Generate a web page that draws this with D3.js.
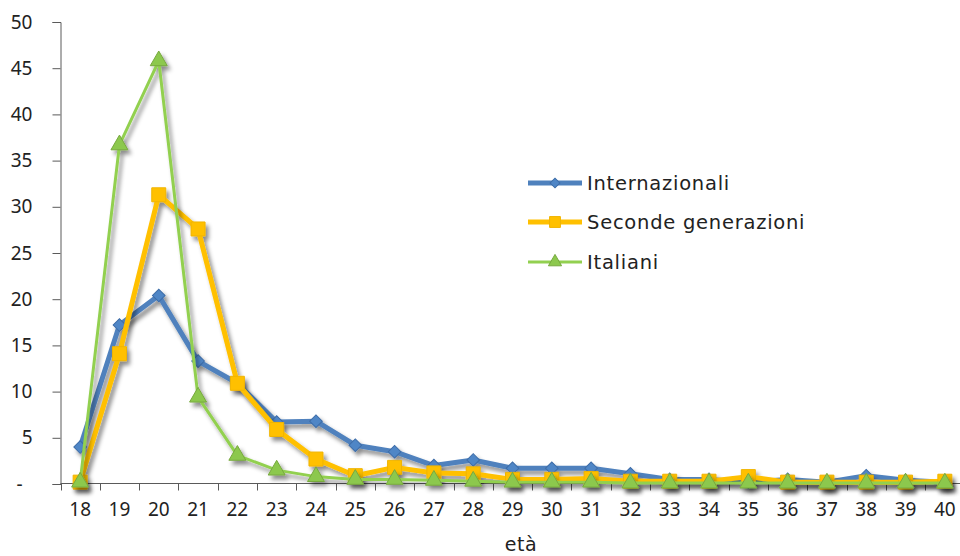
<!DOCTYPE html>
<html>
<head>
<meta charset="utf-8">
<script src="https://cdn.jsdelivr.net/npm/d3@7"></script>
<style>
  html, body { margin: 0; padding: 0; background: #fff; }
  svg { display: block; font-family: "DejaVu Sans", sans-serif; }
</style>
</head>
<body>
<svg id="chart" width="960" height="556"></svg>
<script>
// Età (asse x)
const ages = d3.range(18, 41);

// Valori percentuali per età
const internazionali = [4.0, 17.2, 20.4, 13.3, 10.9, 6.7, 6.8, 4.2, 3.5, 2.0, 2.6, 1.7, 1.7, 1.7, 1.1, 0.5, 0.5, 0.2, 0.5, 0.2, 0.9, 0.4, 0.2];
const secondeGenerazioni = [0.2, 14.1, 31.3, 27.6, 10.9, 5.9, 2.7, 0.9, 1.8, 1.2, 1.1, 0.5, 0.5, 0.6, 0.3, 0.3, 0.3, 0.8, 0.2, 0.2, 0.2, 0.2, 0.3];
const italiani = [0.2, 36.7, 45.8, 9.4, 3.1, 1.5, 0.8, 0.5, 0.5, 0.4, 0.3, 0.2, 0.2, 0.2, 0.1, 0.1, 0.1, 0.1, 0.1, 0.1, 0.1, 0.1, 0.1];

const seriesNames = ["Internazionali", "Seconde generazioni", "Italiani"];
const yTicks = [0, 5, 10, 15, 20, 25, 30, 35, 40, 45, 50];

// rombo: quadrato ruotato di 45°
const series = [
  { name: seriesNames[0], values: internazionali, color: "#4F81BD", fill: "#4F86C6", stroke: "#3E6DA8", width: 5, symbol: d3.symbolSquare, size: 80, rot: 45 },
  { name: seriesNames[1], values: secondeGenerazioni, color: "#FFC000", fill: "#FFC000", stroke: "#F0B400", width: 5, symbol: d3.symbolSquare, size: 196, rot: 0 },
  { name: seriesNames[2], values: italiani, color: "#92D050", fill: "#8CC84E", stroke: "#77A83E", width: 3, symbol: d3.symbolTriangle, size: 125, rot: 0 }
];

const tickFont = "'Noto Sans', 'Open Sans', sans-serif";
const labelFont = "'DejaVu Sans', sans-serif";

const svg = d3.select("#chart");

// ombra dei tracciati
const defs = svg.append("defs");
const f = defs.append("filter").attr("id", "shadow")
  .attr("x", "-20%").attr("y", "-20%").attr("width", "140%").attr("height", "140%");
f.append("feDropShadow").attr("dx", 3).attr("dy", 4).attr("stdDeviation", 2.2)
  .attr("flood-color", "#000").attr("flood-opacity", 0.45);

const x = d3.scaleBand().domain(ages).range([60.5, 964.5]);
const y = d3.scaleLinear().domain([0, 50]).range([484, 22]);
const cx = a => x(a) + x.bandwidth() / 2;

// asse y
const yAxis = svg.append("g")
  .attr("transform", "translate(60.5,0)")
  .call(d3.axisLeft(y).tickValues(yTicks).tickSize(8).tickPadding(20)
    .tickFormat(d => d === 0 ? "-" : d));
yAxis.select(".domain").attr("stroke", "#5a5a5a");
yAxis.selectAll(".tick line").attr("stroke", "#5a5a5a");
yAxis.selectAll(".tick text").attr("font-size", 19).attr("fill", "#222")
  .attr("font-family", tickFont);
yAxis.selectAll(".tick text").filter(d => d === 0).attr("dx", -10);

// asse x
const xAxis = svg.append("g")
  .attr("transform", "translate(0,483.5)")
  .call(d3.axisBottom(x).tickSize(0).tickPadding(19));
xAxis.select(".domain").attr("stroke", "#5a5a5a").attr("d", "M60.5,0H964.5");
xAxis.selectAll(".tick text").attr("font-size", 19).attr("fill", "#222")
  .attr("font-family", tickFont);
// tacche sui confini delle categorie
const bounds = ages.map(a => x(a)).concat([x.range()[1]]);
xAxis.selectAll("line.bound").data(bounds).join("line")
  .attr("class", "bound")
  .attr("x1", d => Math.round(d) + 0.5).attr("x2", d => Math.round(d) + 0.5)
  .attr("y1", 0).attr("y2", 7)
  .attr("stroke", "#5a5a5a");

svg.append("text")
  .attr("x", 521).attr("y", 551)
  .attr("text-anchor", "middle")
  .attr("font-family", labelFont)
  .attr("font-size", 19).attr("letter-spacing", 0.6).attr("fill", "#222")
  .text("età");

// serie
const line = d3.line().x((d, i) => cx(ages[i])).y(d => y(d));
series.forEach(s => {
  const g = svg.append("g").attr("filter", "url(#shadow)");
  g.append("path").datum(s.values)
    .attr("d", line)
    .attr("fill", "none")
    .attr("stroke", s.color)
    .attr("stroke-width", s.width)
    .attr("stroke-linejoin", "round");
  g.selectAll("path.m").data(s.values).join("path")
    .attr("class", "m")
    .attr("d", d3.symbol().type(s.symbol).size(s.size))
    .attr("transform", (d, i) => `translate(${cx(ages[i])},${y(d)}) rotate(${s.rot})`)
    .attr("fill", s.fill)
    .attr("stroke", s.stroke)
    .attr("stroke-width", 1);
});

// legenda
const legend = svg.append("g");
const ly = [183, 222, 262];
series.forEach((s, i) => {
  const g = legend.append("g").attr("transform", `translate(0,${ly[i]})`);
  g.append("line").attr("x1", 528).attr("x2", 582).attr("y1", 0).attr("y2", 0)
    .attr("stroke", s.color).attr("stroke-width", s.width);
  g.append("path")
    .attr("d", d3.symbol().type(s.symbol).size(s.size * 0.6))
    .attr("transform", `translate(555,0) rotate(${s.rot})`)
    .attr("fill", s.fill).attr("stroke", s.stroke).attr("stroke-width", 1);
  g.append("text").attr("x", 587).attr("y", 0).attr("dy", "0.36em")
    .attr("font-family", labelFont)
    .attr("font-size", 19.5).attr("letter-spacing", 0.75).attr("fill", "#222")
    .text(s.name);
});
</script>
</body>
</html>
